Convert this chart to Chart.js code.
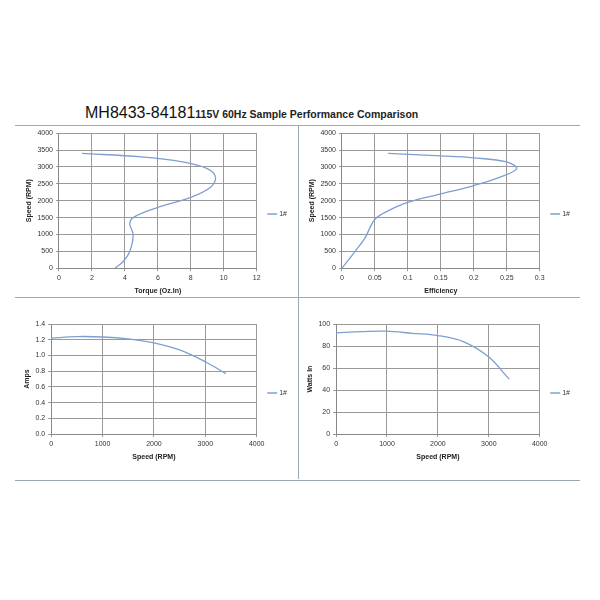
<!DOCTYPE html>
<html>
<head>
<script src="https://cdn.jsdelivr.net/npm/chart.js@4"></script>
<style>
body { margin:0; background:#fff; font-family:"Liberation Sans",Arial,sans-serif; }
#title { position:absolute; left:85px; top:104px; white-space:nowrap; }
#title .a { font-size:16px; color:#111; }
#title .b { font-size:10.5px; font-weight:bold; color:#222; }
#frame { position:absolute; left:15px; top:125px; width:565px; height:354px; border-top:1px solid #9aa8b8; border-bottom:1px solid #9aa8b8; }
#vline { position:absolute; left:298px; top:125px; width:1px; height:354px; background:#9aa8b8; }
#hline { position:absolute; left:15px; top:297px; width:565px; height:1px; background:#9aa8b8; }
.box { position:absolute; width:283px; height:172px; }
</style>
</head>
<body>
<div id="title"><span class="a">MH8433-84181</span><span class="b">115V 60Hz Sample Performance Comparison</span></div>
<div id="frame"></div><div id="vline"></div><div id="hline"></div>
<div class="box" style="left:16px;top:126px"><canvas id="c1"></canvas></div>
<div class="box" style="left:299px;top:126px"><canvas id="c2"></canvas></div>
<div class="box" style="left:16px;top:298px"><canvas id="c3"></canvas></div>
<div class="box" style="left:299px;top:298px"><canvas id="c4"></canvas></div>
<script>
// speed (RPM) samples for the torque / efficiency curves
const torqueSpeed = [0,200,500,1000,1300,1500,1800,2100,2400,2700,2950,3150,3300,3400];
const torque = [3.4,3.9,4.3,4.5,4.3,4.5,6,8,9.2,9.5,9,7.5,5,1.4];
const effSpeed = [0,500,900,1450,1700,1950,2200,2450,2700,2950,3150,3270,3330,3400];
const efficiency = [0,0.02,0.035,0.05,0.07,0.1,0.15,0.2,0.24,0.265,0.25,0.2,0.15,0.07];
const speed = [0,500,1000,1500,2000,2500,3000,3400];
const amps = [1.22,1.24,1.235,1.21,1.16,1.07,0.92,0.77];
const watts = [92,93,93.5,91.5,89.5,84,70,50];
const seriesName = "1#";

const lineColor = "#7f9fd0";
const tickFont = { family: "Liberation Sans", size: 7 };
const titleFont = { family: "Liberation Sans", size: 7, weight: "bold" };

function pts(xs, ys) { return xs.map((x, i) => ({ x: x, y: ys[i] })); }

function makeChart(id, data, x, y, pad) {
  new Chart(id, {
    type: "scatter",
    data: { datasets: [{ label: seriesName, data: data, showLine: true, borderColor: lineColor,
      borderWidth: 1.3, pointRadius: 0, tension: 0.35 }] },
    options: {
      responsive: true, maintainAspectRatio: false, animation: false,
      layout: { padding: pad },
      plugins: {
        legend: { position: "right", labels: { usePointStyle: true, pointStyle: "line", boxWidth: 16,
          padding: 12, font: tickFont, color: "#333" } },
        tooltip: { enabled: false }
      },
      scales: {
        x: { type: "linear", min: x.min, max: x.max,
          ticks: { stepSize: x.step, font: tickFont, color: "#333", callback: (v) => String(+v.toFixed(2)) },
          grid: { color: "#999", tickLength: 3 }, border: { color: "#888" },
          title: { display: true, text: x.title, font: titleFont, color: "#222", padding: 1 } },
        y: { min: y.min, max: y.max, ticks: { stepSize: y.step, font: tickFont, color: "#333",
            callback: y.fmt ? y.fmt : (v) => String(v) }, grid: { color: "#999", tickLength: 3 }, border: { color: "#888" },
          title: { display: true, text: y.title, font: titleFont, color: "#222", padding: 1 } }
      }
    }
  });
}

const padTop = { top: 6, right: 2, bottom: 2, left: 8 };
const padBottom = { top: 26, right: 2, bottom: 8, left: 6 };

makeChart("c1", pts(torque, torqueSpeed), { min: 0, max: 12, step: 2, title: "Torque (Oz.In)" },
  { min: 0, max: 4000, step: 500, title: "Speed (RPM)" }, padTop);
makeChart("c2", pts(efficiency, effSpeed), { min: 0, max: 0.3, step: 0.05, title: "Efficiency" },
  { min: 0, max: 4000, step: 500, title: "Speed (RPM)" }, padTop);
makeChart("c3", pts(speed, amps), { min: 0, max: 4000, step: 1000, title: "Speed (RPM)" },
  { min: 0, max: 1.4, step: 0.2, title: "Amps", fmt: (v) => v.toFixed(1) }, padBottom);
makeChart("c4", pts(speed, watts), { min: 0, max: 4000, step: 1000, title: "Speed (RPM)" },
  { min: 0, max: 100, step: 10, title: "Watts In" }, padBottom);
</script>
</body>
</html>
